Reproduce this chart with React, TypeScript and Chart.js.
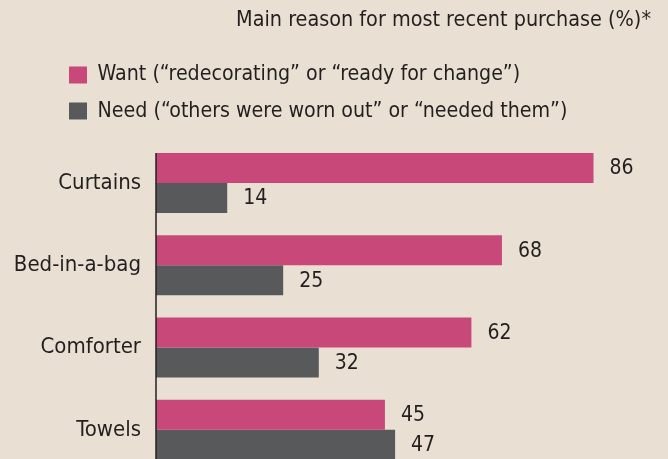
import React, { useEffect, useRef } from 'react';
import { Chart, registerables } from 'chart.js';

Chart.register(...registerables);

const categories = ['Curtains', 'Bed-in-a-bag', 'Comforter', 'Towels'];
const wantValues = [86, 68, 62, 45];
const needValues = [14, 25, 32, 47];
const seriesLabels = [
  'Want (“redecorating” or “ready for change”)',
  'Need (“others were worn out” or “needed them”)',
];
const titleText = 'Main reason for most recent purchase (%)*';

const FONT = "'DejaVu Sans Condensed', 'Liberation Sans Narrow', sans-serif";
const TEXT = '#231f20';
const BG = '#e9e0d3';
const PINK = '#c8487a';
const GRAY = '#58595b';

const valueLabels = {
  id: 'valueLabels',
  afterDatasetsDraw(chart: any) {
    const ctx = chart.ctx;
    ctx.save();
    ctx.fillStyle = TEXT;
    ctx.font = `21px ${FONT}`;
    ctx.textAlign = 'left';
    ctx.textBaseline = 'middle';
    chart.data.datasets.forEach((ds: any, di: number) => {
      const meta = chart.getDatasetMeta(di);
      meta.data.forEach((el: any, i: number) => {
        ctx.fillText(String(ds.data[i]), el.x + 16, el.y + 1);
      });
    });
    ctx.restore();
  },
};

const axisLine = {
  id: 'axisLine',
  afterLayout(chart: any) {
    // let the long category labels extend past the axis box without clipping
    chart.scales.y.left = 0;
  },
  afterDatasetsDraw(chart: any) {
    const ctx = chart.ctx;
    const x = chart.scales.x.getPixelForValue(0);
    const first = chart.getDatasetMeta(0).data[0];
    const top = first.y - first.height / 2;
    ctx.save();
    ctx.strokeStyle = TEXT;
    ctx.lineWidth = 1.5;
    ctx.beginPath();
    ctx.moveTo(x, top);
    ctx.lineTo(x, chart.chartArea.bottom);
    ctx.stroke();
    ctx.restore();
  },
};

export default function App() {
  const ref = useRef<HTMLCanvasElement>(null);
  useEffect(() => {
    if (!ref.current) return;
    const chart = new Chart(ref.current, {
      type: 'bar',
      data: {
        labels: categories,
        datasets: [
          { label: seriesLabels[0], data: wantValues, backgroundColor: PINK, borderWidth: 0 },
          { label: seriesLabels[1], data: needValues, backgroundColor: GRAY, borderWidth: 0 },
        ],
      },
      options: {
        indexAxis: 'y',
        responsive: false,
        animation: false,
        layout: { padding: { left: 54, right: 17, top: 0, bottom: 0 } },
        datasets: { bar: { categoryPercentage: 0.73, barPercentage: 1 } },
        scales: {
          x: {
            position: 'top',
            min: 0,
            max: 97.3,
            grid: { display: false, drawTicks: false },
            border: { display: false },
            ticks: { display: false },
            afterFit: (s: any) => {
              s.height = 10.2;
            },
          },
          y: {
            grid: { display: false, drawTicks: false },
            border: { display: false },
            ticks: { color: TEXT, font: { family: FONT, size: 22 }, padding: 15 },
            afterFit: (s: any) => {
              s.width = 102;
              s.paddingTop = 0;
              s.paddingBottom = 0;
            },
          },
        },
        plugins: {
          title: {
            display: true,
            text: titleText,
            align: 'end',
            color: TEXT,
            font: { family: FONT, size: 21.4, weight: 'normal' },
            padding: { top: 8, bottom: 15.6 },
          },
          legend: {
            display: true,
            align: 'start',
            labels: {
              boxWidth: 18,
              boxHeight: 17,
              padding: 15,
              color: TEXT,
              font: { family: FONT, size: 21.2 },
            },
          },
          tooltip: { enabled: false },
        },
      } as any,
      plugins: [valueLabels, axisLine],
    });
    return () => chart.destroy();
  }, []);

  return (
    <div
      style={{
        position: 'fixed',
        left: 0,
        top: 0,
        width: 668,
        height: 459,
        overflow: 'hidden',
        background: BG,
      }}
    >
      <canvas ref={ref} width={668} height={471} style={{ display: 'block' }} />
    </div>
  );
}
